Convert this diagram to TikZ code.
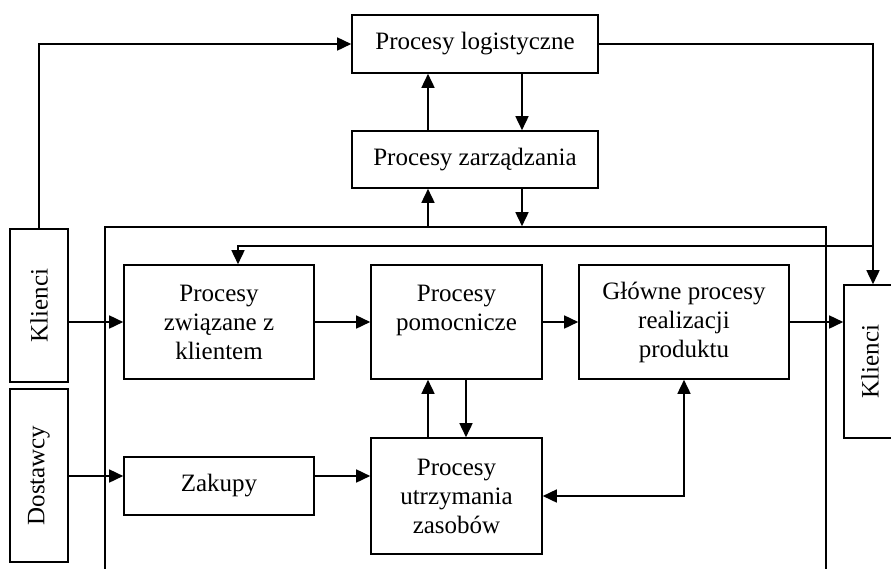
\documentclass[tikz,border=0pt]{standalone}
\usepackage{fontspec}
\setmainfont{Liberation Serif}
\usetikzlibrary{arrows.meta}
\begin{document}
\begin{tikzpicture}[x=1pt,y=-1pt,
  box/.style={draw, line width=1.6pt, align=center, inner sep=0pt,
    font=\fontsize{25}{29}\selectfont},
  tip/.tip={Triangle[length=14pt,width=13pt]},
  arr/.style={line width=1.6pt, -tip},
  biarr/.style={line width=1.6pt, tip-tip},
  sidetext/.style={rotate=90, font=\fontsize{25}{29}\selectfont}]
\useasboundingbox (0,0) rectangle (891,568);
\clip (0,0) rectangle (891,568);

% enclosing frame of the company processes
\node[box, minimum width=721pt, minimum height=360pt] (core) at (465.5,407) {};

% top level
\node[box, minimum width=246pt, minimum height=58pt] (logi) at (475,44) {Procesy logistyczne};
\node[box, minimum width=246pt, minimum height=57pt] (zarz) at (475,159.5) {Procesy zarządzania};

% outside parties
\node[box, minimum width=58pt, minimum height=153pt] (kl) at (39,305.5) {};
\node[sidetext] (kltxt) at (kl.center) {Klienci};
\node[box, minimum width=58pt, minimum height=173pt] (dost) at (39,475.5) {};
\node[sidetext] (dosttxt) at (dost.center) {Dostawcy};
\node[box, minimum width=52pt, minimum height=153pt] (klR) at (870,361.5) {};
\node[sidetext] (klRtxt) at (klR.center) {Klienci};

% inner processes
\node[box, minimum width=190pt, minimum height=114pt] (zwiaz) at (219,322) {Procesy\\związane z\\klientem};
\node[box, minimum width=171pt, minimum height=114pt] (pomoc) at (456.5,322) {Procesy\\pomocnicze\\\mbox{}};
\node[box, minimum width=210pt, minimum height=114pt] (glowne) at (684,322) {Główne procesy\\realizacji\\produktu};
\node[box, minimum width=190pt, minimum height=58pt] (zakupy) at (219,486) {Zakupy};
\node[box, minimum width=171pt, minimum height=116pt] (utrzym) at (456.5,496) {Procesy\\utrzymania\\zasobów};

% helper coordinates for off-centre connectors
\coordinate (xa) at (428,0);
\coordinate (xb) at (522,0);
\coordinate (xr) at (873,0);
\coordinate (xd) at (466,0);
\coordinate (split) at (873,246);
\coordinate (bend) at (238,246);
\coordinate (yz) at (0,476);

% connectors
\draw[arr] (kl.north) |- (logi.west);
\draw[arr] (logi.east) -| (xr |- klR.north);
\draw[arr] (split) -- (bend) -- (bend |- zwiaz.north);
\draw[arr] (xb |- logi.south) -- (xb |- zarz.north);
\draw[arr] (xa |- zarz.north) -- (xa |- logi.south);
\draw[arr] (xa |- core.north) -- (xa |- zarz.south);
\draw[arr] (xb |- zarz.south) -- (xb |- core.north);

\draw[arr] (kl.east |- zwiaz.west) -- (zwiaz.west);
\draw[arr] (zwiaz.east) -- (pomoc.west);
\draw[arr] (pomoc.east) -- (glowne.west);
\draw[arr] (glowne.east) -- (klR.west |- glowne.east);

\draw[arr] (dost.east |- yz) -- (zakupy.west |- yz);
\draw[arr] (zakupy.east |- yz) -- (utrzym.west |- yz);

\draw[arr] (xa |- utrzym.north) -- (xa |- pomoc.south);
\draw[arr] (xd |- pomoc.south) -- (xd |- utrzym.north);
\draw[biarr] (glowne.south) |- (utrzym.east);
\end{tikzpicture}
\end{document}
